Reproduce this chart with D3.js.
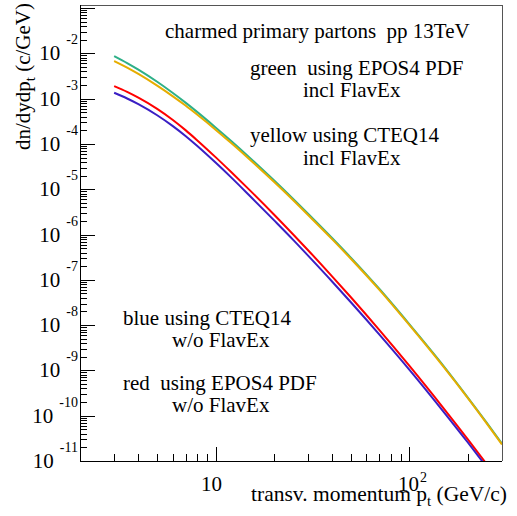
<!DOCTYPE html>
<html>
<head>
<meta charset="utf-8">
<title> charm pt spectra </title>
<script src="https://d3js.org/d3.v7.min.js"></script>
<style>
	body { margin: 0; background: #fff; }
	text { font-family: "Liberation Serif", "DejaVu Serif", serif; white-space: pre; fill: #000; }
</style>
</head>
<body>
<svg width="517" height="516"></svg>
<script type="text/javascript">
	// pt bins (GeV/c) and dn/dydpt for the four curves
	let ptValues = [3, 3.5, 4, 5, 6, 7, 8, 10, 12, 15, 20, 25, 30, 40, 50, 70, 100, 150, 200, 250, 300];
	let greenEpos = [8.73e-3, 6.12e-3, 4.38e-3, 2.36e-3, 1.35e-3, 8.18e-4, 5.18e-4, 2.32e-4, 1.18e-4, 4.99e-5, 1.58e-5,
		6.28e-6, 2.90e-6, 8.30e-7, 3.05e-7, 6.27e-8, 1.04e-8, 1.25e-9, 2.52e-10, 7.02e-11, 2.40e-11];
	let yellowCteq = [6.78e-3, 4.86e-3, 3.52e-3, 1.94e-3, 1.14e-3, 7.05e-4, 4.51e-4, 2.07e-4, 1.06e-4, 4.55e-5, 1.46e-5,
		5.86e-6, 2.70e-6, 7.83e-7, 2.88e-7, 5.98e-8, 9.95e-9, 1.19e-9, 2.44e-10, 6.78e-11, 2.32e-11];
	let redEpos = [1.89e-3, 1.41e-3, 1.05e-3, 5.94e-4, 3.42e-4, 2.02e-4, 1.23e-4, 5.12e-5, 2.43e-5, 9.57e-6, 2.78e-6,
		1.03e-6, 4.51e-7, 1.18e-7, 4.07e-8, 7.78e-9, 1.26e-9, 1.46e-10, 3.01e-11, 8.55e-12, 3.01e-12];
	let blueCteq = [1.35e-3, 1.01e-3, 7.59e-4, 4.31e-4, 2.51e-4, 1.50e-4, 9.23e-5, 3.88e-5, 1.85e-5, 7.18e-6, 2.08e-6,
		7.83e-7, 3.42e-7, 9.08e-8, 3.16e-8, 6.18e-9, 1.03e-9, 1.22e-10, 2.56e-11, 7.36e-12, 2.62e-12];
	let xDomain = [2, 300];
	let yDomain = [1e-11, 0.117];
	let yDecades = [-11, -10, -9, -8, -7, -6, -5, -4, -3, -2];
	let xLabels = [10, 100];

	let svg = d3.select("svg");
	let padL = 80, padR = 502, padT = 5, padB = 461;
	let x = d3.scaleLog().domain(xDomain).range([padL, padR]);
	let y = d3.scaleLog().domain(yDomain).range([padB, padT]);

	svg.append("clipPath").attr("id", "frame")
		.append("rect").attr("x", padL).attr("y", padT).attr("width", padR - padL).attr("height", padB - padT);

	// frame
	svg.append("line").attr("x1", padL).attr("x2", padR).attr("y1", padT + 0.5).attr("y2", padT + 0.5)
		.attr("stroke", "#555").attr("stroke-width", 1);
	svg.append("line").attr("x1", padR + 0.5).attr("x2", padR + 0.5).attr("y1", padT).attr("y2", padB)
		.attr("stroke", "#555").attr("stroke-width", 1);

	// curves
	let series = [
		{ vals: greenEpos, color: "#2eb088" },
		{ vals: yellowCteq, color: "#e6ad00" },
		{ vals: redEpos, color: "#ff0000" },
		{ vals: blueCteq, color: "#3a1fc4" }
	];
	let line = d3.line().x(d => x(d[0])).y(d => y(d[1])).curve(d3.curveMonotoneX);
	let g = svg.append("g").attr("clip-path", "url(#frame)");
	series.forEach(function(s) {
		g.append("path").attr("d", line(ptValues.map((p, i) => [p, s.vals[i]])))
			.attr("fill", "none").attr("stroke", s.color).attr("stroke-width", 2);
	});

	// y axis
	svg.append("line").attr("x1", padL + 0.5).attr("x2", padL + 0.5).attr("y1", padT).attr("y2", padB)
		.attr("stroke", "#000");
	for (let d = -11; d <= -1; d++) {
		for (let m = 1; m <= 9; m++) {
			let v = m * Math.pow(10, d);
			if (v < yDomain[0] || v > yDomain[1]) continue;
			let yy = Math.round(y(v)) + 0.5;
			svg.append("line").attr("x1", padL).attr("x2", padL + (m == 1 ? 15 : 7))
				.attr("y1", yy).attr("y2", yy).attr("stroke", "#000");
		}
	}
	yDecades.forEach(function(d) {
		let yy = y(Math.pow(10, d));
		let t = svg.append("text").attr("x", 78).attr("y", yy + 7).attr("text-anchor", "end")
			.style("font-size", "21px");
		t.append("tspan").text("10");
		t.append("tspan").attr("dx", 6).attr("dy", -16).style("font-size", "14px").text(d);
	});

	// x axis
	svg.append("line").attr("x1", padL).attr("x2", padR).attr("y1", padB + 0.5).attr("y2", padB + 0.5)
		.attr("stroke", "#000");
	for (let d = 0; d <= 2; d++) {
		for (let m = 1; m <= 9; m++) {
			let v = m * Math.pow(10, d);
			if (v <= xDomain[0] || v >= xDomain[1]) continue;
			let xx = Math.round(x(v)) + 0.5;
			svg.append("line").attr("x1", xx).attr("x2", xx).attr("y1", padB)
				.attr("y2", padB - (m == 1 ? 14 : 7)).attr("stroke", "#000");
		}
	}
	xLabels.forEach(function(v) {
		let p = Math.round(Math.log10(v));
		let t = svg.append("text").attr("y", 491).attr("text-anchor", "middle").style("font-size", "21px");
		t.append("tspan").text("10");
		if (p > 1) {
			t.attr("x", x(v) + 3);
			t.append("tspan").attr("dx", 1).attr("dy", -9).style("font-size", "14px").text(p);
		} else {
			t.attr("x", x(v) - 4);
		}
	});

	// axis titles
	let xt = svg.append("text").attr("x", 507).attr("y", 501).attr("text-anchor", "end").style("font-size", "21.5px");
	xt.append("tspan").text("transv. momentum p");
	xt.append("tspan").attr("dy", 5).style("font-size", "15px").text("t");
	xt.append("tspan").attr("dy", -5).text(" (GeV/c)");

	let yt = svg.append("text").attr("transform", "translate(30,3) rotate(-90)").attr("text-anchor", "end")
		.style("font-size", "21px");
	yt.append("tspan").text("dn/dydp");
	yt.append("tspan").attr("dy", 5).style("font-size", "15px").text("t");
	yt.append("tspan").attr("dy", -5).text(" (c/GeV)");

	// annotations
	let notes = [
		["charmed primary partons  pp 13TeV", 165, 38],
		["green  using EPOS4 PDF", 250, 75],
		["incl FlavEx", 303, 97],
		["yellow using CTEQ14", 250, 142],
		["incl FlavEx", 303, 165],
		["blue using CTEQ14", 123, 325],
		["w/o FlavEx", 172, 347],
		["red  using EPOS4 PDF", 123, 390],
		["w/o FlavEx", 172, 412]
	];
	notes.forEach(function(n) {
		svg.append("text").attr("x", n[1]).attr("y", n[2]).style("font-size", "21px").text(n[0]);
	});
</script>
</body>
</html>
